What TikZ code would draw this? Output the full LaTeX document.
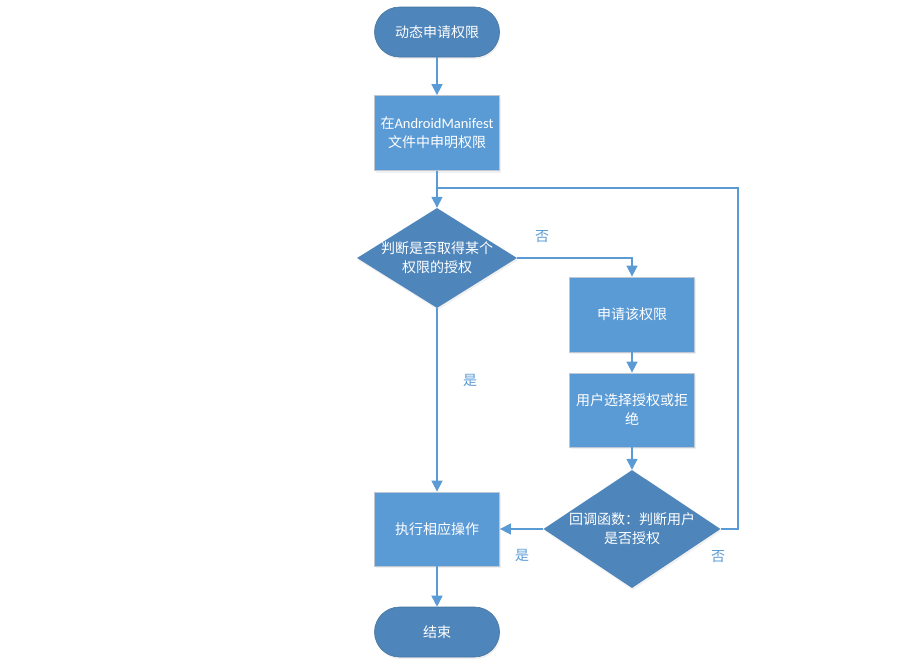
\documentclass[tikz,border=0pt]{standalone}
\usepackage{fontspec}
\setmainfont{Noto Sans CJK SC}
\newfontfamily\latinpart{Carlito}
\usetikzlibrary{shapes.geometric,arrows.meta,shadows}
\definecolor{darkfill}{RGB}{78,133,186}
\definecolor{lightfill}{RGB}{91,155,213}
\definecolor{linecol}{RGB}{91,155,213}
\definecolor{boxborder}{RGB}{190,200,212}
\definecolor{stadborder}{RGB}{70,115,160}
\tikzset{
  base/.style={text=white, align=center, font=\fontsize{14}{19}\selectfont, inner sep=0pt},
  terminal/.style={base, draw=stadborder, line width=0.6pt, fill=darkfill, rounded corners=25pt,
    minimum width=125pt, minimum height=50pt,
    drop shadow={opacity=0.12, shadow xshift=1pt, shadow yshift=-2pt}},
  procbox/.style={base, draw=boxborder, line width=0.8pt, fill=lightfill,
    minimum width=125pt, minimum height=75pt,
    drop shadow={opacity=0.12, shadow xshift=1pt, shadow yshift=-2pt}},
  decision/.style={diamond, fill=darkfill, inner sep=0pt,
    drop shadow={opacity=0.12, shadow xshift=1pt, shadow yshift=-2pt}},
  conn/.style={draw=linecol, line width=1.6pt, -{Triangle[width=11pt,length=11pt]}},
  plain/.style={draw=linecol, line width=1.6pt},
  edgelabel/.style={text=linecol, font=\fontsize{14}{16}\selectfont, inner sep=0pt},
}
\begin{document}
\begin{tikzpicture}[x=1pt,y=-1pt]
\useasboundingbox (0,0) rectangle (919,665);
\node[terminal] (start) at (437,32) {动态申请权限};
\node[procbox] (manifest) at (437,133) {在{\latinpart\fontsize{14.5}{19}\selectfont AndroidManifest}\\文件中申明权限};
\node[decision, minimum width=160pt, minimum height=100pt,
      label={[base]center:判断是否取得某个\\权限的授权}] (d1) at (437,258) {};
\node[procbox] (req) at (632,314.5) {申请该权限};
\node[procbox, minimum height=74pt] (user) at (632,410) {用户选择授权或拒\\绝};
\node[decision, minimum width=177pt, minimum height=118pt,
      label={[base]center:回调函数：判断用户\\是否授权}] (d2) at (632,529) {};
\node[procbox, minimum height=74pt] (exec) at (437,529) {执行相应操作};
\node[terminal] (end) at (437,632) {结束};
\coordinate (loop) at (738,188);

\draw[conn] (start) -- (manifest);
\draw[conn] (manifest) -- (d1.north);
\draw[conn] (d1.east) -| (req.north);
\draw[conn] (req) -- (user);
\draw[conn] (user) -- (d2.north);
\draw[conn] (d2.west) -- (exec.east);
\draw[conn] (d1.south) -- (exec.north);
\draw[conn] (exec) -- (end);
\draw[plain] (d2.east) -| (loop) -- (loop -| d1.north);

\node[edgelabel] (no1) at (542,237) {否};
\node[edgelabel] (yes1) at (470,380) {是};
\node[edgelabel] (yes2) at (522,555) {是};
\node[edgelabel] (no2) at (718,557) {否};
\end{tikzpicture}
\end{document}
